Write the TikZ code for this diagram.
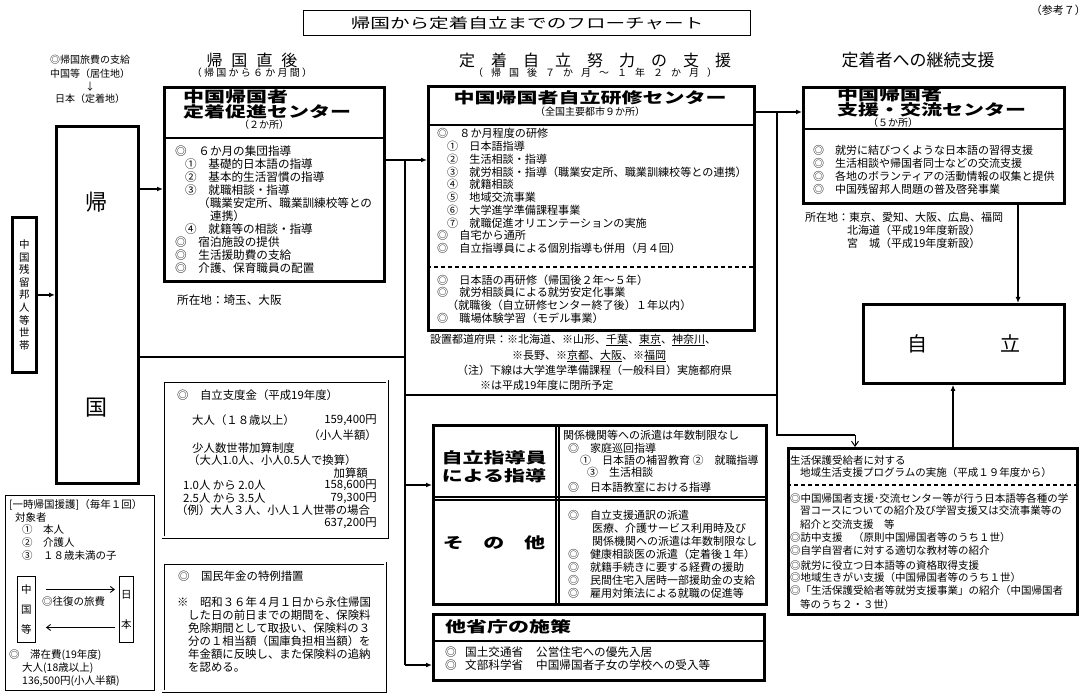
\documentclass[tikz,border=0pt]{standalone}
\usepackage{fontspec}
\setmainfont{Noto Sans CJK JP}
\usepackage{tikz}
\usetikzlibrary{arrows.meta}
\newcommand{\wide}[1]{\scalebox{1.4}[1]{#1}}

\begin{document}
\begin{tikzpicture}[x=1pt, y=-1pt, font=\fontsize{11}{13}\selectfont,
  txt/.style={anchor=west, inner sep=0pt},
  rtxt/.style={anchor=east, inner sep=0pt},
  ctxt/.style={anchor=center, inner sep=0pt},
  box/.style={draw, line width=2.8pt, inner sep=0pt, anchor=north west},
  thinbox/.style={draw, line width=0.9pt, inner sep=0pt, anchor=north west},
  dblbox/.style={draw, double, double distance=2pt, line width=0.8pt, inner sep=0pt, anchor=north west},
  headfont/.style={font=\fontsize{15}{17}\selectfont\bfseries},
  divider/.style={line width=2.8pt},
  dashsep/.style={line width=1.6pt, dash pattern=on 4pt off 3pt},
  twin/.style={line width=1.1pt},
  wire/.style={line width=2pt},
  conn/.style={line width=2pt, -{Latex[length=6pt,width=5pt]}},
  oconn/.style={line width=1pt, -{Straight Barb[length=5pt,width=7pt]}},
  tconn/.style={line width=0.9pt, -{Straight Barb[length=4pt,width=6pt]}}]

  \fill[white] (0,0) rectangle (1092,700);
  \useasboundingbox (0,0) rectangle (1092,700);

  % title and column heads
  \node[draw, line width=1.2pt, minimum width=447pt, minimum height=25pt, anchor=north west,
    font=\fontsize{14}{16}\selectfont] (title) at (303,10) {\wide{帰国から定着自立までのフローチャート}};
  \node[rtxt] (sanko) at (1086,10) {（参考７）};
  \node[ctxt, font=\fontsize{16}{18}\selectfont] (head1) at (252,60) {帰\hspace{9pt}国\hspace{9pt}直\hspace{9pt}後};
  \node[ctxt, font=\fontsize{10}{12}\selectfont] (sub1) at (252,73) {（ 帰 国 か ら ６ か 月 間 ）};
  \node[ctxt, font=\fontsize{16}{18}\selectfont] (head2) at (595,60) {定\hspace{16pt}着\hspace{16pt}自\hspace{16pt}立\hspace{16pt}努\hspace{16pt}力\hspace{16pt}の\hspace{16pt}支\hspace{16pt}援};
  \node[ctxt, font=\fontsize{10}{12}\selectfont] (sub2) at (595,73) {（\hspace{8pt}帰\hspace{8pt}国\hspace{8pt}後\hspace{8pt}７\hspace{8pt}か\hspace{8pt}月\hspace{8pt}～\hspace{8pt}１\hspace{8pt}年\hspace{8pt}２\hspace{8pt}か\hspace{8pt}月\hspace{8pt}）};
  \node[ctxt, font=\fontsize{17}{19}\selectfont] (head3) at (918,60) {定着者への継続支援};

  % travel costs
  \foreach \y/\s in {60/◎帰国旅費の支給, 74/中国等（居住地）, 87/↓, 99/日本（定着地）}
    \node[ctxt, font=\fontsize{10}{12}\selectfont] (ryohi\y) at (90,\y) {\s};

  % left column
  \node[box, minimum width=24pt, minimum height=155pt, align=center,
    font=\fontsize{10.5}{12.6}\selectfont] (setai) at (11,216) {中\\国\\残\\留\\邦\\人\\等\\世\\帯};
  \node[box, minimum width=82pt, minimum height=357pt] (kikoku) at (55,125) {};
  \node[ctxt, font=\fontsize{22}{24}\selectfont] (ki1) at (96,202) {帰};
  \node[ctxt, font=\fontsize{22}{24}\selectfont] (ki2) at (96,408) {国};

  % 定着促進センター
  \node[box, minimum width=220pt, minimum height=194pt] (sokushin) at (163,86) {};
  \draw[divider] (sokushin.west |- 0,138) -- (sokushin.east |- 0,138);
  \node[txt, headfont] (skh1) at (183,97) {\wide{中国帰国者}};
  \node[txt, headfont] (skh2) at (183,112) {\wide{定着促進センター}};
  \node[ctxt, font=\fontsize{10}{12}\selectfont] (skh3) at (264,125) {（２か所）};
  \foreach \x/\y/\s in {175/151/◎　６か月の集団指導, 185/164/①　基礎的日本語の指導,
      185/177/②　基本的生活習慣の指導, 185/190/③　就職相談・指導,
      198/203/（職業安定所、職業訓練校等との, 210/216/連携）, 185/229/④　就籍等の相談・指導,
      175/242/◎　宿泊施設の提供, 175/255/◎　生活援助費の支給, 175/268/◎　介護、保育職員の配置}
    \node[txt, font=\fontsize{11.6}{13}\selectfont] (sk\y) at (\x,\y) {\s};
  \node[txt, font=\fontsize{11.6}{13}\selectfont] (skloc) at (177,300) {所在地：埼玉、大阪};

  % 自立研修センター
  \node[box, minimum width=326pt, minimum height=244pt] (kenshu) at (427,85) {};
  \draw[divider] (kenshu.west |- 0,125) -- (kenshu.east |- 0,125);
  \draw[dashsep] (kenshu.west |- 0,267) -- (kenshu.east |- 0,267);
  \node[ctxt, headfont] (ksh1) at (590,98) {\wide{中国帰国者自立研修センター}};
  \node[ctxt, font=\fontsize{10}{12}\selectfont] (ksh2) at (590,112) {（全国主要都市９か所）};
  \foreach \x/\y/\s in {437/133/◎　８か月程度の研修, 447/146/①　日本語指導, 447/159/②　生活相談・指導,
      447/172/③　就労相談・指導（職業安定所、職業訓練校等との連携）, 447/184/④　就籍相談,
      447/197/⑤　地域交流事業, 447/210/⑥　大学進学準備課程事業,
      447/223/⑦　就職促進オリエンテーションの実施, 437/235/◎　自宅から通所,
      437/248/◎　自立指導員による個別指導も併用（月４回）,
      437/280/◎　日本語の再研修（帰国後２年～５年）, 437/292/◎　就労相談員による就労安定化事業,
      447/305/（就職後（自立研修センター終了後）１年以内）, 437/318/◎　職場体験学習（モデル事業）}
    \node[txt, font=\fontsize{11.1}{13}\selectfont] (ks\y) at (\x,\y) {\s};
  \foreach \x/\y/\s in {430/340/{設置都道府県：※北海道、※山形、\underline{千葉}、\underline{東京}、\underline{神奈川}、},
      512/356/{※長野、※\underline{京都}、\underline{大阪}、※\underline{福岡}},
      457/370/（注）下線は大学進学準備課程（一般科目）実施都府県, 480/385/※は平成19年度に閉所予定}
    \node[txt] (pref\y) at (\x,\y) {\s};

  % 支援・交流センター
  \node[box, minimum width=261pt, minimum height=116pt] (koryu) at (802,86) {};
  \draw[divider] (koryu.west |- 0,129) -- (koryu.east |- 0,129);
  \node[txt, headfont] (krh1) at (837,95) {\wide{中国帰国者}};
  \node[txt, headfont] (krh2) at (837,110) {\wide{支援・交流センター}};
  \node[ctxt, font=\fontsize{10}{12}\selectfont] (krh3) at (893,123) {（５か所）};
  \foreach \x/\y/\s in {813/150/◎　就労に結びつくような日本語の習得支援, 813/163/◎　生活相談や帰国者同士などの交流支援,
      813/176/◎　各地のボランティアの活動情報の収集と提供, 813/189/◎　中国残留邦人問題の普及啓発事業,
      805/217/所在地：東京、愛知、大阪、広島、福岡, 847/230/北海道（平成19年度新設）,
      847/243/宮　城（平成19年度新設）}
    \node[txt] (kr\y) at (\x,\y) {\s};

  % 自立
  \node[box, minimum width=201pt, minimum height=79pt, font=\fontsize{20}{22}\selectfont] (jiritsu) at (862,303) {自\hspace{73pt}立};

  % 地域生活支援プログラム
  \node[box, minimum width=289pt, minimum height=166pt] (seiho) at (787,447) {};
  \draw[dashsep] (seiho.west |- 0,485) -- (seiho.east |- 0,485);
  \foreach \x/\y/\s in {790/460/生活保護受給者に対する, 800/473/地域生活支援プログラムの実施（平成１９年度から）,
      790/498/◎中国帰国者支援･交流センター等が行う日本語等各種の学,
      800/511/習コースについての紹介及び学習支援又は交流事業等の, 800/525/紹介と交流支援　等,
      790/538/◎訪中支援　（原則中国帰国者等のうち１世）, 790/551/◎自学自習者に対する適切な教材等の紹介,
      790/565/◎就労に役立つ日本語等の資格取得支援, 790/578/◎地域生きがい支援（中国帰国者等のうち１世）,
      790/591/◎「生活保護受給者等就労支援事業」の紹介（中国帰国者, 800/605/等のうち２・３世）}
    \node[txt, font=\fontsize{10.5}{13}\selectfont] (sh\y) at (\x,\y) {\s};

  % 自立支度金
  \node[dblbox, minimum width=224pt, minimum height=156pt] (shitaku) at (163,381) {};
  \foreach \x/\y/\s in {177/395/◎　自立支度金（平成19年度）, 192/420/大人（１８歳以上）, 192/448/少人数世帯加算制度,
      188/460/（大人1.0人、小人0.5人で換算）, 183/485/1.0人 から 2.0人, 183/498/2.5人 から 3.5人,
      176/510/（例）大人３人、小人１人世帯の場合}
    \node[txt, font=\fontsize{11.4}{13}\selectfont] (sdl\y) at (\x,\y) {\s};
  \foreach \y/\s in {420/{159,400円}, 435/（小人半額）, 485/{158,600円}, 498/{79,300円}, 523/{637,200円}}
    \node[rtxt, font=\fontsize{11.4}{13}\selectfont] (sdr\y) at (377,\y) {\s};
  \node[rtxt, font=\fontsize{11.4}{13}\selectfont] (kasan) at (368,473) {加算額};

  % 国民年金
  \node[dblbox, minimum width=222pt, minimum height=128pt] (nenkin) at (163,563) {};
  \foreach \x/\y/\s in {178/576/◎　国民年金の特例措置, 177/602/※　昭和３６年４月１日から永住帰国,
      188/615/した日の前日までの期間を、保険料, 188/628/免除期間として取扱い、保険料の３,
      188/641/分の１相当額（国庫負担相当額）を, 188/654/年金額に反映し、また保険料の追納, 188/667/を認める。}
    \node[txt, font=\fontsize{11.4}{13}\selectfont] (nk\y) at (\x,\y) {\s};

  % 一時帰国援護
  \node[thinbox, minimum width=149pt, minimum height=195pt] (ichiji) at (5,495) {};
  \foreach \x/\y/\s in {9/505/[一時帰国援護]（毎年１回）, 15/518/対象者, 22/530/①　本人, 22/543/②　介護人,
      22/556/③　１８歳未満の子, 42/602/◎往復の旅費, 9/655/◎　滞在費(19年度), 22/668/大人(18歳以上),
      22/681/{136,500円(小人半額)}}
    \node[txt, font=\fontsize{10.5}{13}\selectfont] (ij\y) at (\x,\y) {\s};
  \node[thinbox, minimum width=18pt, minimum height=66pt, align=center,
    font=\fontsize{10.5}{20}\selectfont] (chugoku) at (17,576) {中\\国\\等};
  \node[thinbox, minimum width=14pt, minimum height=66pt, align=center,
    font=\fontsize{10.5}{20}\selectfont] (nihon) at (119,576) {日\\[10pt]本};
  \draw[tconn] ([xshift=10pt,yshift=20pt]chugoku.east) -- ([xshift=-4pt,yshift=20pt]nihon.west);
  \draw[tconn] ([xshift=-4pt,yshift=-18pt]nihon.west) -- ([xshift=10pt,yshift=-18pt]chugoku.east);

  % 自立指導員 / その他
  \node[box, minimum width=333pt, minimum height=179pt] (shido) at (432,424) {};
  \draw[twin] (shido.north -| 556,0) -- (shido.south -| 556,0);
  \draw[twin] (shido.north -| 559,0) -- (shido.south -| 559,0);
  \draw[twin] (shido.west |- 0,497) -- (shido.east |- 0,497);
  \draw[twin] (shido.west |- 0,500) -- (shido.east |- 0,500);
  \node[ctxt, headfont] (sdh1) at (494,458) {\wide{自立指導員}};
  \node[ctxt, headfont] (sdh2) at (494,476) {\wide{による指導}};
  \node[ctxt, headfont] (sdh3) at (494,543) {\wide{そ\hspace{14pt}の\hspace{14pt}他}};
  \foreach \x/\y/\s in {563/435/関係機関等への派遣は年数制限なし, 568/448/◎　家庭巡回指導,
      580/460/①　日本語の補習教育 ②　就職指導, 587/472/③　生活相談, 568/487/◎　日本語教室における指導,
      568/515/◎　自立支援通訳の派遣, 592/528/医療、介護サービス利用時及び, 592/541/関係機関への派遣は年数制限なし,
      568/554/◎　健康相談医の派遣（定着後１年）, 568/567/◎　就籍手続きに要する経費の援助,
      568/580/◎　民間住宅入居時一部援助金の支給, 568/593/◎　雇用対策法による就職の促進等}
    \node[txt] (sd\y) at (\x,\y) {\s};

  % 他省庁の施策
  \node[box, minimum width=331pt, minimum height=66pt] (tasho) at (432,613) {};
  \draw[divider] (tasho.west |- 0,641) -- (tasho.east |- 0,641);
  \node[txt, headfont] (tsh) at (445,627) {\wide{他省庁の施策}};
  \foreach \y/\a/\b in {652/国土交通省/公営住宅への優先入居, 665/文部科学省/中国帰国者子女の学校への受入等}{
    \node[txt, font=\fontsize{11.6}{13}\selectfont] (tsa\y) at (445,\y) {◎};
    \node[txt, font=\fontsize{11.6}{13}\selectfont] (tsb\y) at (465,\y) {\a};
    \node[txt, font=\fontsize{11.6}{13}\selectfont] (tsc\y) at (536,\y) {\b};
  }

  % connectors
  \coordinate (v1) at (405,160);
  \coordinate (v2) at (405,665);
  \coordinate (r1) at (777,112);
  \coordinate (r2) at (777,435);
  \coordinate (r3) at (855,435);
  \draw[conn] (setai.east) -- (setai.east -| kikoku.west);
  \draw[conn] (kikoku.east |- 0,189) -- (sokushin.west |- 0,189);
  \draw[conn] (sokushin.east |- v1) -- (kenshu.west |- v1);
  \draw[wire] (v1) -- (v2);
  \draw[wire] (kikoku.east |- 0,357) -- (v1 |- 0,357);
  \draw[wire] (v1 |- 0,395) -- (r1 |- 0,395);
  \draw[conn] (v1 |- 0,485) -- (shido.west |- 0,485);
  \draw[conn] (v2) -- (tasho.west |- v2);
  \draw[conn] (kenshu.east |- r1) -- (koryu.west |- r1);
  \draw[wire] (r1) -- (r2) -- (r3);
  \draw[oconn] (r3) -- (seiho.north -| r3);
  \draw[conn] (koryu.south -| 1018,0) -- (jiritsu.north -| 1018,0);
  \draw[conn] (seiho.north -| 953,0) -- (jiritsu.south -| 953,0);
\end{tikzpicture}
\end{document}
